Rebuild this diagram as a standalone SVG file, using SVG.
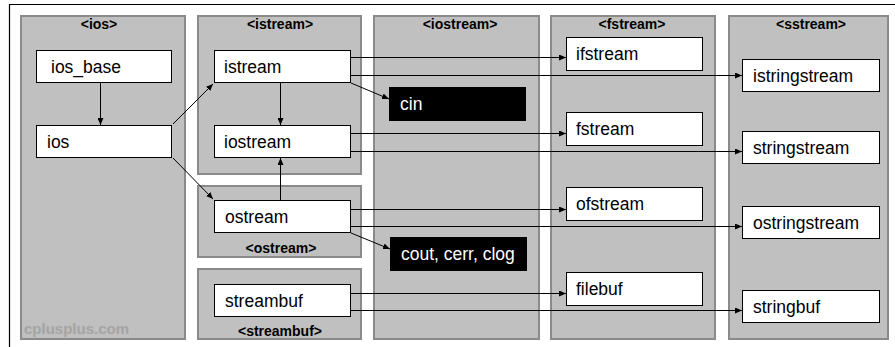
<svg xmlns="http://www.w3.org/2000/svg" width="895" height="347" viewBox="0 0 895 347">
<defs>
<marker id="ah" markerUnits="userSpaceOnUse" markerWidth="7" markerHeight="6" refX="7" refY="3" orient="auto"><path d="M0,0 L7,3 L0,6 z" fill="#000"/></marker>
<style>
.panel{fill:#c0c0c0;stroke:#8a8a8a;stroke-width:2}
.box{fill:#fff;stroke:#000;stroke-width:1}
.dark{fill:#000}
.t{font-family:"Liberation Sans",Arial,sans-serif;font-size:17.5px;fill:#000}
.tw{font-family:"Liberation Sans",Arial,sans-serif;font-size:17.5px;fill:#fff}
.h{font-family:"Liberation Sans",Arial,sans-serif;font-size:14px;font-weight:bold;fill:#000;text-anchor:middle}
.c{fill:none;stroke:#000;stroke-width:1;marker-end:url(#ah)}
</style>
</defs>
<rect width="895" height="347" fill="#fff"/>
<path d="M9.5,347 V4.5 H895" fill="none" stroke="#000" stroke-width="1.2"/>
<g id="panels">
<g id="p-ios"><rect class="panel" x="21" y="16" width="164" height="323"/><text class="h" x="99" y="29">&lt;ios&gt;</text>
<text x="24" y="334" font-family="Liberation Sans,Arial,sans-serif" font-size="15" font-weight="bold" fill="#a2a2a2" stroke="#b4b4b4" stroke-width="0.3">cplusplus.com</text></g>
<g id="p-istream"><rect class="panel" x="198" y="16" width="163" height="158"/><text class="h" x="280" y="29">&lt;istream&gt;</text></g>
<g id="p-ostream"><rect class="panel" x="198" y="186" width="163" height="71"/><text class="h" x="281" y="253">&lt;ostream&gt;</text></g>
<g id="p-streambuf"><rect class="panel" x="198" y="269" width="163" height="70"/><text class="h" x="280" y="336">&lt;streambuf&gt;</text></g>
<g id="p-iostream"><rect class="panel" x="374" y="16" width="165" height="323"/><text class="h" x="460" y="29">&lt;iostream&gt;</text></g>
<g id="p-fstream"><rect class="panel" x="551" y="16" width="164" height="323"/><text class="h" x="632" y="29">&lt;fstream&gt;</text></g>
<g id="p-sstream"><rect class="panel" x="729" y="16" width="159" height="323"/><text class="h" x="811" y="29">&lt;sstream&gt;</text></g>
</g>
<g id="connectors">
<path class="c" d="M100.5,83 V125"/>
<path class="c" d="M173,124 L213,84"/>
<path class="c" d="M173,158 L213,199"/>
<path class="c" d="M280.5,83 V125"/>
<path class="c" d="M280.5,200 V158"/>
<path class="c" d="M351,57.5 H566"/>
<path class="c" d="M351,75.5 H742"/>
<path class="c" d="M351,83 L389,99"/>
<path class="c" d="M351,133.5 H566"/>
<path class="c" d="M351,151.5 H742"/>
<path class="c" d="M351,209.5 H566"/>
<path class="c" d="M351,226.5 H742"/>
<path class="c" d="M351,233 L390,249"/>
<path class="c" d="M351,293.5 H566"/>
<path class="c" d="M351,310.5 H742"/>
</g>
<g id="n-ios_base"><rect class="box" x="36.5" y="50.5" width="135" height="32"/><text class="t" x="51" y="73">ios_base</text></g>
<g id="n-ios"><rect class="box" x="36.5" y="125.5" width="135" height="32"/><text class="t" x="47" y="148">ios</text></g>
<g id="n-istream"><rect class="box" x="214.5" y="50.5" width="136" height="32"/><text class="t" x="224" y="73">istream</text></g>
<g id="n-iostream"><rect class="box" x="214.5" y="125.5" width="136" height="32"/><text class="t" x="224" y="148">iostream</text></g>
<g id="n-ostream"><rect class="box" x="214.5" y="200.5" width="136" height="32"/><text class="t" x="225" y="223">ostream</text></g>
<g id="n-streambuf"><rect class="box" x="214.5" y="284.5" width="136" height="32"/><text class="t" x="225" y="307">streambuf</text></g>
<g id="n-cin"><rect class="dark" x="389" y="87" width="137" height="34"/><text class="tw" x="400" y="110">cin</text></g>
<g id="n-cout"><rect class="dark" x="390" y="237" width="137" height="34"/><text class="tw" x="401" y="260">cout, cerr, clog</text></g>
<g id="n-ifstream"><rect class="box" x="566.5" y="37.5" width="136" height="33"/><text class="t" x="576" y="60">ifstream</text></g>
<g id="n-fstream"><rect class="box" x="566.5" y="112.5" width="136" height="33"/><text class="t" x="576" y="135">fstream</text></g>
<g id="n-ofstream"><rect class="box" x="566.5" y="187.5" width="136" height="33"/><text class="t" x="576" y="210">ofstream</text></g>
<g id="n-filebuf"><rect class="box" x="566.5" y="272.5" width="136" height="33"/><text class="t" x="576" y="295">filebuf</text></g>
<g id="n-istringstream"><rect class="box" x="742.5" y="59.5" width="137" height="32"/><text class="t" x="753" y="82">istringstream</text></g>
<g id="n-stringstream"><rect class="box" x="742.5" y="131.5" width="137" height="32"/><text class="t" x="753" y="154">stringstream</text></g>
<g id="n-ostringstream"><rect class="box" x="742.5" y="206.5" width="137" height="32"/><text class="t" x="753" y="229">ostringstream</text></g>
<g id="n-stringbuf"><rect class="box" x="742.5" y="290.5" width="137" height="32"/><text class="t" x="753" y="313">stringbuf</text></g>
</svg>
